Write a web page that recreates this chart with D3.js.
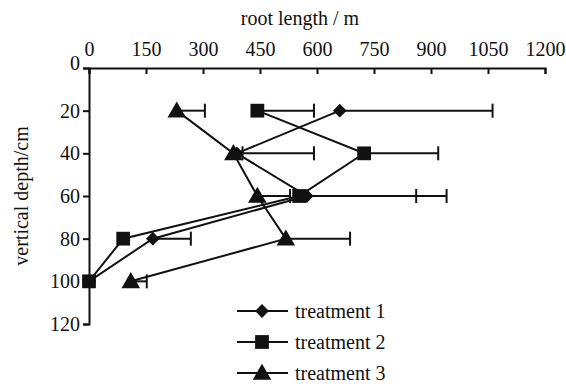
<!DOCTYPE html>
<html>
<head>
<meta charset="utf-8"/>
<script src="https://d3js.org/d3.v7.min.js"></script>
<style>
  body { margin: 0; background: #fff; }
  svg text { font-family: "Liberation Serif", "DejaVu Serif", serif; fill: #111; }
</style>
</head>
<body>
<div id="chart"></div>
<script>
// depth rows (cm) and root length per treatment (m), error = + deviation
var depths = [20, 40, 60, 80, 100];
var treat1 = [660, 389, 573, 168, 0];
var treat2 = [443, 724, 553, 90, 0];
var treat3 = [231, 380, 443, 518, 110];
var err1 = [402, 203, 368, 100, 0];
var err2 = [149, 195, 308, 0, 0];
var err3 = [74, 24, 86, 169, 42];
var xTicks = [0, 150, 300, 450, 600, 750, 900, 1050, 1200];
var yTicks = [0, 20, 40, 60, 80, 100, 120];
var names = ["treatment 1", "treatment 2", "treatment 3"];

var width = 566, height = 387;
var serif = '"Liberation Serif", "DejaVu Serif", serif';
var svg = d3.select("#chart").append("svg")
    .attr("width", width).attr("height", height);

var x = d3.scaleLinear().domain([0, 1200]).range([89, 545]);
var y = d3.scaleLinear().domain([0, 120]).range([68, 324]);

var xAxis = d3.axisTop(x).tickValues(xTicks).tickFormat(d3.format("d"))
    .tickSizeInner(-6).tickSizeOuter(-6).tickPadding(12);
var gx = svg.append("g").attr("transform", "translate(0," + y(0) + ")").call(xAxis);

var yAxis = d3.axisLeft(y).tickValues(yTicks).tickSizeInner(6).tickSizeOuter(6).tickPadding(3);
var gy = svg.append("g").attr("transform", "translate(" + x(0) + ",0)").call(yAxis);
gy.selectAll(".tick").filter(function(d){ return d === 0; }).select("text").attr("dy", "0.05em");

svg.selectAll(".tick text").style("font-family", serif).style("font-size", "20px");
svg.selectAll(".domain, .tick line").attr("stroke", "#111").attr("stroke-width", 2);

svg.append("text").attr("x", 300).attr("y", 25).attr("text-anchor", "middle")
    .style("font-family", serif).style("font-size", "20px").text("root length / m");
svg.append("text").attr("transform", "translate(28,196) rotate(-90)")
    .attr("text-anchor", "middle").style("font-family", serif).style("font-size", "20px")
    .text("vertical depth/cm");

var series = [
  {vals: treat1, err: err1, sym: d3.symbolSquare, size: 95, rot: 45, dy: 0},
  {vals: treat2, err: err2, sym: d3.symbolSquare, size: 190, rot: 0, dy: 0},
  {vals: treat3, err: err3, sym: d3.symbolTriangle, size: 150, rot: 0, dy: 1.5}
];

var line = d3.line().x(function(d){ return x(d[0]); }).y(function(d){ return y(d[1]); });

series.forEach(function(s) {
  var pts = s.vals.map(function(v, i){ return [v, depths[i], s.err[i]]; });
  // error bars
  pts.forEach(function(p) {
    if (p[2] <= 0) return;
    svg.append("line").attr("x1", x(p[0])).attr("x2", x(p[0] + p[2]))
      .attr("y1", y(p[1])).attr("y2", y(p[1])).attr("stroke", "#111").attr("stroke-width", 2);
    svg.append("line").attr("x1", x(p[0] + p[2])).attr("x2", x(p[0] + p[2]))
      .attr("y1", y(p[1]) - 7).attr("y2", y(p[1]) + 7).attr("stroke", "#111").attr("stroke-width", 2);
  });
  svg.append("path").datum(pts).attr("d", line)
    .attr("fill", "none").attr("stroke", "#111").attr("stroke-width", 2);
  svg.selectAll(null).data(pts).enter().append("path")
    .attr("d", d3.symbol().type(s.sym).size(s.size))
    .attr("transform", function(d){
      return "translate(" + x(d[0]) + "," + (y(d[1]) + s.dy) + ") rotate(" + s.rot + ")";
    })
    .attr("fill", "#111");
});

// legend
var legY = [311, 342, 373];
series.forEach(function(s, i) {
  var g = svg.append("g").attr("transform", "translate(0," + legY[i] + ")");
  g.append("line").attr("x1", 237).attr("x2", 288).attr("y1", 0).attr("y2", 0)
    .attr("stroke", "#111").attr("stroke-width", 2);
  g.append("path").attr("d", d3.symbol().type(s.sym).size(s.size))
    .attr("transform", "translate(262," + s.dy + ") rotate(" + s.rot + ")").attr("fill", "#111");
  g.append("text").attr("x", 295).attr("y", 7).style("font-family", serif)
    .style("font-size", "20px").text(names[i]);
});
</script>
</body>
</html>
